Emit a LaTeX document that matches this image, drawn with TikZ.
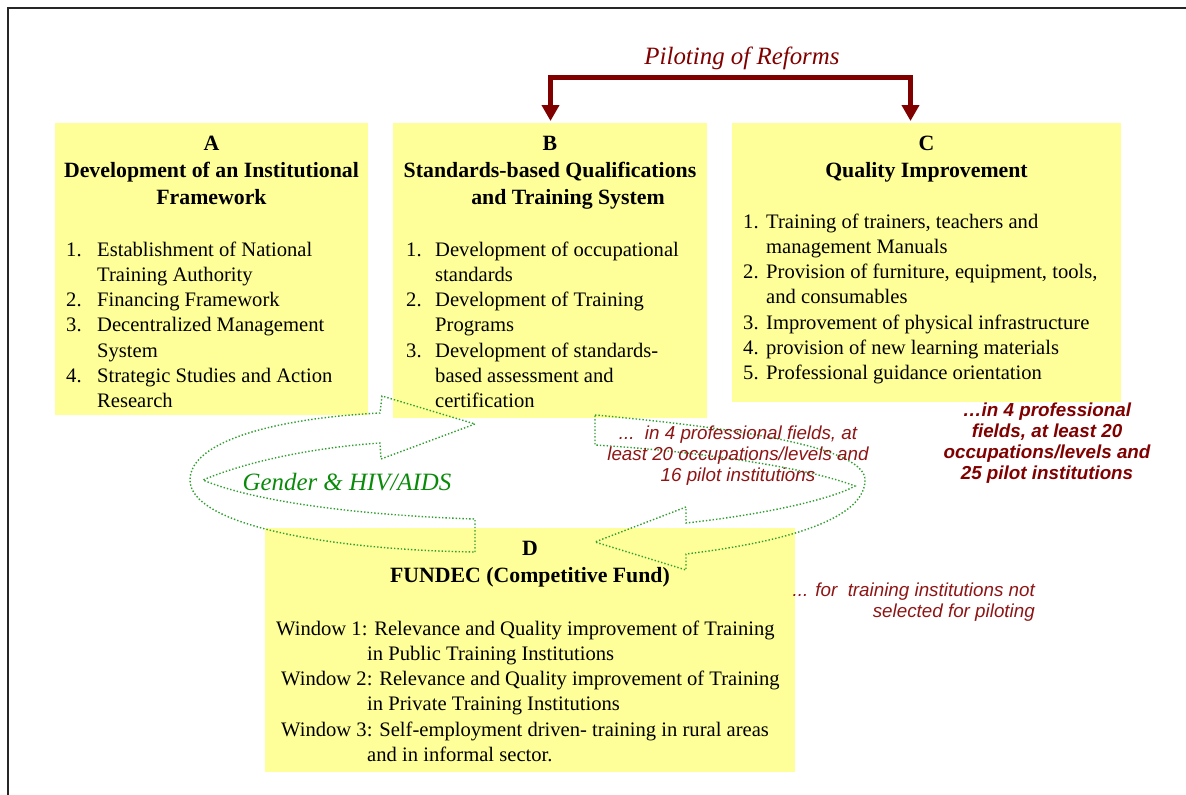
\documentclass[tikz,border=0pt]{standalone}
\usepackage{fontspec}
\setmainfont{Liberation Serif}
\newfontfamily\annofont{Liberation Sans}
\usetikzlibrary{positioning}
\usetikzlibrary{arrows.meta}
\definecolor{panelyellow}{HTML}{FFFF99}
\definecolor{pilotred}{HTML}{800000}
\definecolor{annored}{HTML}{8E1515}
\definecolor{gendergreen}{HTML}{0A8A0A}
\definecolor{loopgreen}{HTML}{2E9E2E}
\newcommand{\itemfont}{\fontsize{20.6}{25.3}\selectfont}
\newcommand{\headfont}{\fontsize{21.8}{27}\selectfont\bfseries}
\newcommand{\annotext}{\annofont\itshape\fontsize{18.8}{21.3}\selectfont}
\tikzset{
	panel/.style={fill=panelyellow, inner sep=0pt, anchor=north west},
	heading/.style={font=\headfont, inner sep=0pt, anchor=base},
	itemlist/.style={font=\itemfont, inner sep=0pt, anchor=base west},
	note/.style={text=annored, font=\annotext, inner sep=0pt, anchor=base},
	loop/.style={draw=loopgreen, dotted, line width=1.4pt},
	pilot/.style={draw=pilotred, line width=4.5pt,
		{Triangle[length=16pt,width=17pt]}-{Triangle[length=16pt,width=17pt]}}
}

\begin{document}
\begin{tikzpicture}[x=1pt, y=-1pt]

					\useasboundingbox (0,0) rectangle (1186,795);
					\draw[black!85, line width=2pt] (8,795) -- (8,8) -- (1186,8);

					\node[panel, minimum width=313pt, minimum height=292pt] (boxA) at (55,123) {};
					\node[panel, minimum width=314pt, minimum height=295pt] (boxB) at (393,123) {};
					\node[panel, minimum width=389pt, minimum height=279pt] (boxC) at (732,123) {};
					\node[panel, minimum width=530pt, minimum height=244pt] (boxD) at (265,528) {};

					\node[heading] (headA) at (211.5,150) {\begin{tabular}[t]{@{}c@{}}
						A\\Development of an Institutional\\Framework
					\end{tabular}};
					\node[itemlist] (listA) at (66,256) {\begin{tabular}[t]{@{}p{31pt}@{}l@{}}
						1. & Establishment of National\\
						   & Training Authority\\
						2. & Financing Framework\\
						3. & Decentralized Management\\
						   & System\\
						4. & Strategic Studies and Action\\
						   & Research
					\end{tabular}};

					\node[heading] (headB) at (550,150) {\begin{tabular}[t]{@{}c@{}}
						B\\Standards-based Qualifications\\\hspace*{36pt}and Training System
					\end{tabular}};
					\node[itemlist] (listB) at (406,256) {\begin{tabular}[t]{@{}p{29pt}@{}l@{}}
						1. & Development of occupational\\
						   & standards\\
						2. & Development of Training\\
						   & Programs\\
						3. & Development of standards-\\
						   & based assessment and\\
						   & certification
					\end{tabular}};

					\node[heading] (headC) at (926.5,150) {\begin{tabular}[t]{@{}c@{}}
						C\\Quality Improvement
					\end{tabular}};
					\node[itemlist] (listC) at (743,228) {\begin{tabular}[t]{@{}p{23pt}@{}l@{}}
						1. & Training of trainers, teachers and\\
						   & management Manuals\\
						2. & Provision of furniture, equipment, tools,\\
						   & and consumables\\
						3. & Improvement of physical infrastructure\\
						4. & provision of new learning materials\\
						5. & Professional guidance orientation
					\end{tabular}};

					\node[heading] (headD) at (530,555) {\begin{tabular}[t]{@{}c@{}}
						D\\FUNDEC (Competitive Fund)
					\end{tabular}};
					\node[itemlist] (listD) at (276,635) {\begin{tabular}[t]{@{}l@{}}
						Window 1: Relevance and Quality improvement of Training\\
						\hspace*{91pt}in Public Training Institutions\\
						\hspace*{5pt}Window 2: Relevance and Quality improvement of Training\\
						\hspace*{91pt}in Private Training Institutions\\
						\hspace*{5pt}Window 3: Self-employment driven- training in rural areas\\
						\hspace*{91pt}and in informal sector.
					\end{tabular}};

					\node[text=pilotred, font=\fontsize{24.9}{28}\selectfont\itshape, inner sep=0pt, anchor=base] (pilotlabel) at (742,64) {Piloting of Reforms};
					\coordinate (pilotB) at (550.5,121);
					\coordinate (pilotC) at (910.5,121);
					\draw[pilot] (pilotB) -- ++(0,-43.5) -| (pilotC);

					\draw[loop] (475,552) -- (475,519)
						.. controls (350,515) and (250,500) .. (203,480)
						.. controls (250,460) and (320,447) .. (380,443)
						-- (381,459) -- (475,424) -- (382,396) -- (380,413)
						.. controls (280,418) and (190,440) .. (190,480)
						.. controls (190,525) and (330,550) .. (475,552) -- cycle;

					\draw[loop] (595,415)
						.. controls (760,430) and (865,450) .. (865,480)
						.. controls (865,525) and (760,545) .. (686,554)
						-- (686,570) -- (595,542) -- (686,507) -- (686,523)
						.. controls (760,515) and (830,500) .. (855,486)
						.. controls (800,465) and (680,450) .. (595,445) -- cycle;

					\node[text=gendergreen, font=\fontsize{24.9}{28}\selectfont\itshape, inner sep=0pt, anchor=base] (gender) at (347,490) {Gender \& HIV/AIDS};

					\node[note] (noteB) at (738,439) {\begin{tabular}[t]{@{}c@{}}
						...\ \ in 4 professional fields, at\\
						least 20 occupations/levels and\\
						16 pilot institutions
					\end{tabular}};
					\node[note, font=\annotext\bfseries, text=pilotred] (noteC) at (1047,416) {\begin{tabular}[t]{@{}c@{}}
						\dots in 4 professional\\
						fields, at least 20\\
						occupations/levels and\\
						25 pilot institutions
					\end{tabular}};
					\node[note, anchor=base east] (noteD) at (1035,596) {\begin{tabular}[t]{@{}r@{}}
						... for\ \ training institutions not\\
						selected for piloting
					\end{tabular}};

\end{tikzpicture}
\end{document}
